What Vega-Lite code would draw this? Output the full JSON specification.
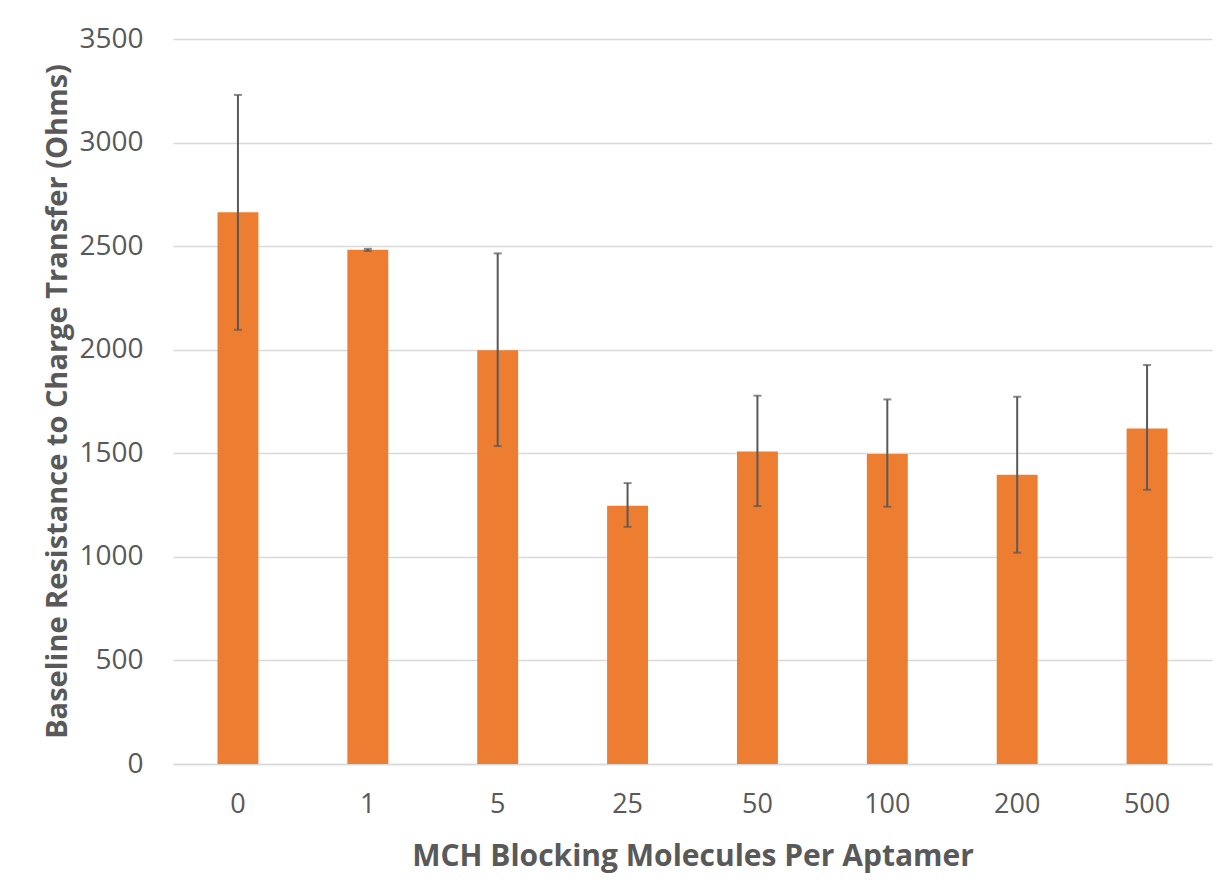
{
  "$schema": "https://vega.github.io/schema/vega-lite/v6.json",
  "width": 1039,
  "height": 725,
  "autosize": {"type": "none"},
  "padding": {"left": 173, "top": 39, "right": 9, "bottom": 128},
  "background": "white",
  "config": {
    "view": {"stroke": null},
    "font": "Open Sans"
  },
  "data": {
    "values": [
      {"mch": "0", "rct": 2664, "lo": 2096, "hi": 3230},
      {"mch": "1", "rct": 2482, "lo": 2477, "hi": 2487},
      {"mch": "5", "rct": 1998, "lo": 1535, "hi": 2465},
      {"mch": "25", "rct": 1247, "lo": 1145, "hi": 1356},
      {"mch": "50", "rct": 1509, "lo": 1245, "hi": 1778},
      {"mch": "100", "rct": 1496, "lo": 1242, "hi": 1760},
      {"mch": "200", "rct": 1396, "lo": 1020, "hi": 1773},
      {"mch": "500", "rct": 1620, "lo": 1324, "hi": 1926}
    ]
  },
  "encoding": {
    "x": {
      "field": "mch",
      "type": "nominal",
      "sort": ["0", "1", "5", "25", "50", "100", "200", "500"],
      "scale": {"paddingInner": 0.685, "paddingOuter": 0.3425},
      "axis": {
        "title": "MCH Blocking Molecules Per Aptamer",
        "titleFont": "Open Sans",
        "titleFontSize": 30,
        "titleFontWeight": "bold",
        "titleColor": "#595959",
        "titleBaseline": "middle",
        "titleY": 92,
        "labelAngle": 0,
        "labelFont": "Open Sans",
        "labelFontSize": 27,
        "labelColor": "#595959",
        "labelPadding": 27,
        "ticks": false,
        "domainColor": "#D9D9D9",
        "domainWidth": 1.5
      }
    }
  },
  "layer": [
    {
      "mark": {"type": "bar", "color": "#ED7D31"},
      "encoding": {
        "y": {
          "field": "rct",
          "type": "quantitative",
          "scale": {"domain": [0, 3500], "nice": false},
          "axis": {
            "title": "Baseline Resistance to Charge Transfer (Ohms)",
            "titleFont": "Open Sans",
            "titleFontSize": 29,
            "titleFontWeight": "bold",
            "titleColor": "#595959",
            "titleX": -116,
            "titleY": 362,
            "titleAngle": -90,
            "titleAlign": "center",
            "titleBaseline": "middle",
            "values": [0, 500, 1000, 1500, 2000, 2500, 3000, 3500],
            "format": "d",
            "labelFont": "Open Sans",
            "labelFontSize": 28,
            "labelColor": "#595959",
            "labelPadding": 30,
            "ticks": false,
            "domain": false,
            "grid": true,
            "gridColor": "#D9D9D9",
            "gridWidth": 1.5
          }
        }
      }
    },
    {
      "mark": {"type": "rule", "color": "#595959", "strokeWidth": 2},
      "encoding": {
        "y": {"field": "lo", "type": "quantitative"},
        "y2": {"field": "hi"}
      }
    },
    {
      "mark": {"type": "tick", "color": "#595959", "size": 8, "thickness": 2},
      "encoding": {
        "y": {"field": "lo", "type": "quantitative"}
      }
    },
    {
      "mark": {"type": "tick", "color": "#595959", "size": 8, "thickness": 2},
      "encoding": {
        "y": {"field": "hi", "type": "quantitative"}
      }
    }
  ]
}
